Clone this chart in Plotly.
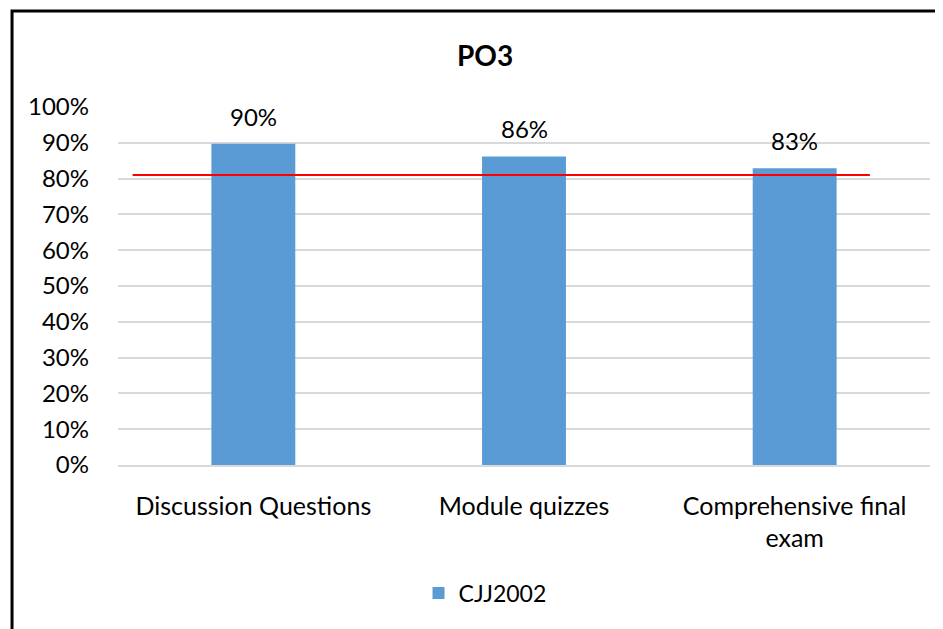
import plotly.graph_objects as go

categories = ["Discussion Questions", "Module quizzes", "Comprehensive final<br>exam"]
scores = [0.897, 0.862, 0.829]
score_labels = ["90%", "86%", "83%"]
target = 0.81
series_name = "CJJ2002"

FONT = "Lato, 'Open Sans', sans-serif"
W, H = 935, 621  # page body adds an 8px offset

fig = go.Figure()
fig.add_trace(go.Bar(
    x=categories, y=scores, name=series_name,
    marker=dict(color="#5B9BD5", line=dict(width=0)),
    width=0.31, hoverinfo="y",
))

# data labels above bars
for c, v, t in zip(categories, scores, score_labels):
    fig.add_annotation(x=c, y=v, text=t, showarrow=False, yanchor="bottom",
                       yshift=11, font=dict(size=24, color="#000000", family=FONT))

# red target line
fig.add_shape(type="line", xref="paper", yref="y", x0=0.018, x1=0.926,
              y0=target, y1=target, line=dict(color="#FF0000", width=2))

# outer border of the chart
fig.add_shape(type="rect", xref="paper", yref="paper", x0=-0.1305, x1=1.2,
              y0=-0.6, y1=1.268, line=dict(color="#000000", width=3), layer="above")

fig.update_layout(
    width=W, height=H,
    margin=dict(l=110, r=13, t=99, b=164),
    paper_bgcolor="white", plot_bgcolor="white",
    font=dict(family=FONT, size=24, color="#000000"),
    title=dict(text="<b>PO3</b>", x=0.452, xref="paper", xanchor="center",
               y=1 - 48 / H, yref="container", yanchor="middle",
               font=dict(size=28, family=FONT)),
    showlegend=True,
    legend=dict(orientation="h", x=0.452, xanchor="center", y=-0.358, yanchor="middle",
                font=dict(size=23, family=FONT), itemwidth=30),
    bargap=0.69,
)

fig.update_yaxes(range=[0, 1], dtick=0.1, tickformat=".0%", showgrid=True,
                 gridcolor="#D9D9D9", gridwidth=1.5, zeroline=False, showline=False,
                 ticklabelstandoff=28, tickfont=dict(size=24))
fig.update_xaxes(showline=True, linecolor="#D9D9D9", linewidth=1.5, ticks="",
                 ticklabelstandoff=18, tickfont=dict(size=25))

fig.write_html("out.html")
